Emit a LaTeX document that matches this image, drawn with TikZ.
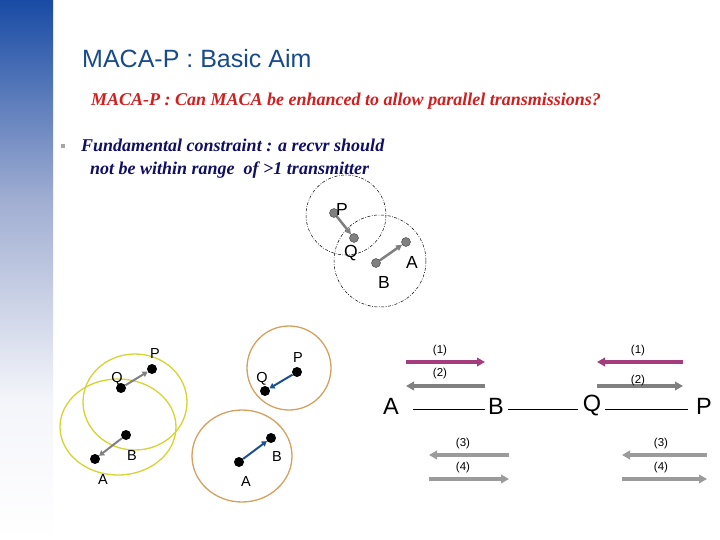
\documentclass[tikz,border=0pt]{standalone}
\usepackage{fontspec}
\setmainfont{Liberation Serif}
\setsansfont{Liberation Sans}
\usetikzlibrary{arrows.meta}
\definecolor{barTop}{RGB}{25,75,165}
\definecolor{barMid}{RGB}{160,174,210}
\definecolor{barLow}{RGB}{244,245,250}
\definecolor{titleblue}{RGB}{25,75,140}
\definecolor{redtxt}{RGB}{210,30,30}
\definecolor{navy}{RGB}{15,15,100}
\definecolor{ylw}{RGB}{212,212,50}
\definecolor{tan}{RGB}{215,160,95}
\definecolor{arrblue}{RGB}{30,80,145}
\definecolor{mag}{RGB}{165,60,125}
\definecolor{gr1}{RGB}{128,128,128}
\definecolor{gr2}{RGB}{155,155,155}
\tikzset{
  gdot/.style={circle,inner sep=0,minimum size=9pt,fill=gr1,draw=gray!50!black,line width=0.4pt},
  bdot/.style={circle,inner sep=0,minimum size=10pt,fill=black},
  dcirc/.style={draw=black,line width=0.5pt,dash pattern=on 3pt off 1.5pt on 0.8pt off 1.5pt},
  tlbl/.style={font=\sffamily\fontsize{17.5}{17}\selectfont,inner sep=0},
  lbl/.style={font=\sffamily\fontsize{14.5}{14}\selectfont,inner sep=0},
  biglbl/.style={font=\sffamily\fontsize{23.5}{23}\selectfont,inner sep=0},
  num/.style={font=\sffamily\fontsize{11.5}{11}\selectfont,inner sep=0},
  tarr/.style={line width=3.2pt,-{Triangle[length=8pt,width=8.5pt]}},
  headtxt/.style={anchor=base west,inner sep=0,font=\bfseries\itshape\fontsize{18}{18}\selectfont},
}
\begin{document}
\begin{tikzpicture}[x=1pt,y=-1pt]
\useasboundingbox (0,0) rectangle (720,540);
\fill[white] (0,0) rectangle (720,540);
% left bar
\shade[top color=barTop,bottom color=barMid] (0,0) rectangle (53,200);
\shade[top color=barMid,bottom color=barLow] (0,199.5) rectangle (53,400);
\shade[top color=barLow,bottom color=white] (0,399.5) rectangle (53,540);
% texts
\node[anchor=base west,inner sep=0,text=titleblue,font=\sffamily\fontsize{25}{25}\selectfont] (title) at (82,68) {MACA-P : Basic Aim};
\node[headtxt,text=redtxt] (q) at (91,106) {MACA-P : Can MACA be enhanced to allow parallel transmissions?};
\fill[gray!70] (60.5,144.5) rectangle (64.5,148.5);
\node[headtxt,text=navy] (l1) at (81,152) {Fundamental constraint : a recvr should};
\node[headtxt,text=navy] (l2) at (90,175) {not be within range\ \ of >1 transmitter};
% top diagram
\draw[dcirc] (346,215) circle[radius=40];
\draw[dcirc] (380,261) circle[radius=46];
\node[gdot] (tP) at (334,213) {};
\node[gdot] (tQ) at (354,238) {};
\node[gdot] (tB) at (376,263) {};
\node[gdot] (tA) at (406,242) {};
\draw[gr1,line width=2.5pt,-{Triangle[length=6pt,width=6pt]}] (tP) -- (tQ);
\draw[gr1,line width=2.5pt,-{Triangle[length=6pt,width=6pt]}] (tB) -- (tA);
\node[tlbl] (tPl) at (342,209) {P};
\node[tlbl] (tQl) at (351,253) {Q};
\node[tlbl] (tAl) at (412,262) {A};
\node[tlbl] (tBl) at (384,282) {B};
% bottom-left yellow
\draw[ylw,line width=1.3pt] (118,427) ellipse[x radius=58,y radius=48];
\draw[ylw,line width=1.3pt] (135,402) ellipse[x radius=52,y radius=48];
\node[lbl] (yPl) at (155,354) {P};
\node[lbl] (yQl) at (117,379) {Q};
\node[lbl] (yBl) at (132,456) {B};
\node[lbl] (yAl) at (103,480) {A};
\node[bdot] (yP) at (152,369) {};
\node[bdot] (yQ) at (121,388) {};
\node[bdot] (yB) at (126,435) {};
\node[bdot] (yA) at (95,459) {};
\draw[gr1,line width=2pt,-{Triangle[length=5pt,width=6pt]}] (yQ) -- (yP);
\draw[gr1,line width=2pt,-{Triangle[length=5pt,width=6pt]}] (yB) -- (yA);
% bottom-middle tan
\draw[tan,line width=1.3pt] (289,368) circle[radius=42];
\draw[tan,line width=1.3pt] (242,456) ellipse[x radius=50,y radius=46];
\node[lbl] (oPl) at (298,358) {P};
\node[lbl] (oQl) at (262,379) {Q};
\node[lbl] (oBl) at (277,457) {B};
\node[lbl] (oAl) at (246,482) {A};
\node[bdot] (oP) at (297,372) {};
\node[bdot] (oQ) at (265,391) {};
\node[bdot] (oB) at (271,438) {};
\node[bdot] (oA) at (239,462) {};
\draw[arrblue,line width=2pt,-{Triangle[length=5pt,width=6pt]}] (oP) -- (oQ);
\draw[arrblue,line width=2pt,-{Triangle[length=5pt,width=6pt]}] (oA) -- (oB);
% right diagram
\node[biglbl] (rA) at (391,406) {A};
\node[biglbl] (rB) at (496,406) {B};
\node[biglbl] (rQ) at (592,406) {Q};
\node[biglbl] (rP) at (704,406) {P};
\draw[line width=0.6pt,shorten <=14pt,shorten >=3pt] ([yshift=-3pt]rA.east) -- ([yshift=-3pt]rB.west);
\draw[line width=0.6pt,shorten <=4pt,shorten >=5pt] ([yshift=-3pt]rB.east) -- ([yshift=-3pt]rQ.west);
\draw[line width=0.6pt,shorten <=4pt,shorten >=8pt] ([yshift=-3pt]rQ.east) -- ([yshift=-3pt]rP.west);
% arrows
\coordinate (a1s) at (406,362); \coordinate (a1e) at (485,362);
\coordinate (a2s) at (485,386); \coordinate (a2e) at (406,386);
\coordinate (b1s) at (683,362); \coordinate (b1e) at (597,362);
\coordinate (b2s) at (597,386); \coordinate (b2e) at (683,386);
\coordinate (a3s) at (509,455); \coordinate (a3e) at (429,455);
\coordinate (a4s) at (429,479); \coordinate (a4e) at (509,479);
\coordinate (b3s) at (707,455); \coordinate (b3e) at (622,455);
\coordinate (b4s) at (622,479); \coordinate (b4e) at (707,479);
\draw[tarr,mag] (a1s) -- (a1e);
\draw[tarr,gr1] (a2s) -- (a2e);
\draw[tarr,mag] (b1s) -- (b1e);
\draw[tarr,gr1] (b2s) -- (b2e);
\draw[tarr,gr2] (a3s) -- (a3e);
\draw[tarr,gr2] (a4s) -- (a4e);
\draw[tarr,gr2] (b3s) -- (b3e);
\draw[tarr,gr2] (b4s) -- (b4e);
\node[num] (n1a) at (440,351) {(1)};
\node[num] (n2a) at (440,374) {(2)};
\node[num] (n1b) at (638,351) {(1)};
\node[num] (n2b) at (638,381) {(2)};
\node[num] (n3a) at (463,444) {(3)};
\node[num] (n4a) at (463,468) {(4)};
\node[num] (n3b) at (661,444) {(3)};
\node[num] (n4b) at (661,468) {(4)};
\end{tikzpicture}
\end{document}
